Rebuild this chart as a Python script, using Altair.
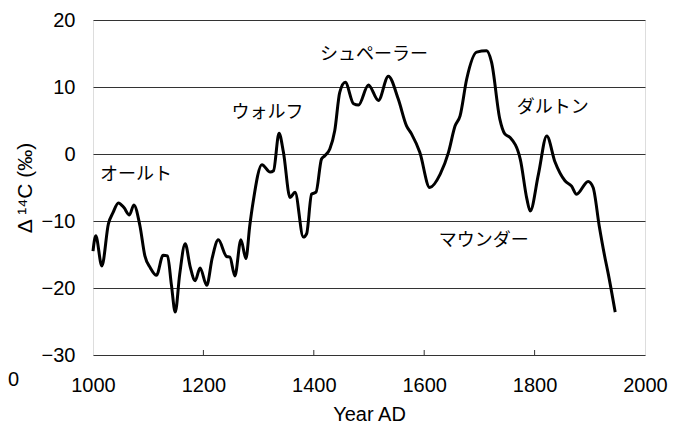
import altair as alt
import pandas as pd

years = [1000, 1005, 1016, 1028, 1036, 1046, 1056, 1066, 1074, 1085, 1094, 1104, 1115,
         1127, 1135, 1142, 1149, 1157, 1167, 1176, 1185, 1194, 1206, 1216, 1227, 1242,
         1248, 1257, 1268, 1277, 1284, 1290, 1306, 1321, 1327, 1337, 1345, 1357, 1366,
         1381, 1387, 1396, 1404, 1414, 1420, 1429, 1438, 1447, 1457, 1472, 1481, 1499,
         1517, 1535, 1553, 1568, 1577, 1592, 1610, 1629, 1644, 1656, 1665, 1677, 1695,
         1713, 1722, 1737, 1746, 1755, 1774, 1786, 1792, 1807, 1822, 1837, 1855, 1867,
         1876, 1897, 1906, 1917, 1928, 1933, 1946]
delta14c = [-14.5, -12.2, -16.7, -10.4, -8.8, -7.3, -8.0, -9.1, -7.6, -10.7, -15.2, -17.0, -18.1,
            -15.1, -15.2, -19.5, -23.6, -18.0, -13.4, -16.8, -18.9, -17.0, -19.6, -15.5, -12.8, -15.3,
            -15.4, -18.2, -12.8, -15.6, -10.7, -7.2, -1.6, -2.7, -2.5, 3.1, 0.25, -6.5, -5.7,
            -12.4, -11.9, -6.0, -5.7, -0.75, -0.25, 0.75, 3.5, 9.2, 10.7, 7.5, 7.3, 10.3,
            8.0, 11.6, 8.2, 4.2, 3.0, 0.25, -5.0, -3.0, 0.25, 4.2, 5.7, 11.2, 15.2,
            15.4, 13.7, 5.2, 3.0, 2.5, -0.75, -6.7, -8.5, -3.0, 2.7, -1.2, -4.0, -4.8,
            -6.0, -4.1, -5.0, -10.7, -15.7, -17.7, -23.6]

label_text = ["オールト", "ウォルフ", "シュペーラー", "マウンダー", "ダルトン"]
label_year = [1078, 1316, 1509, 1708, 1833]
label_val = [-3.1, 6.1, 14.8, -13.0, 6.9]

tick_years = [1200, 1400, 1600, 1800]

W, H = 552, 335
FONT = "Liberation Sans"
JP = "Noto Sans CJK JP"

df = pd.DataFrame({"year": years, "d14c": delta14c})
lab = pd.DataFrame({"text": label_text, "year": label_year, "val": label_val})
ticks = pd.DataFrame({"year": tick_years})

xscale = alt.Scale(domain=[1000, 2000], nice=False, zero=False)
yscale = alt.Scale(domain=[-30, 20], nice=False, zero=False)

base_x = alt.X("year:Q", scale=xscale,
               axis=alt.Axis(values=[1000, 1200, 1400, 1600, 1800, 2000], grid=False,
                             ticks=False, domain=False, labelPadding=20, labelFlush=False,
                             title="Year AD", titlePadding=9, labelFontSize=20,
                             titleFontSize=20, labelFont=FONT, titleFont=FONT,
                             labelColor="black", titleColor="black",
                             titleFontWeight="normal", format="d"))
base_y = alt.Y("d14c:Q", scale=yscale,
               axis=alt.Axis(values=[-30, -20, -10, 0, 10, 20], grid=True, gridColor="#333333",
                             gridWidth=1, ticks=False, domain=False, labelPadding=18,
                             labelFlush=False, title="Δ ¹⁴C (‰)", titlePadding=6,
                             labelFontSize=20, titleFontSize=21, labelFont=FONT,
                             titleFont=FONT, labelColor="black", titleColor="black",
                             titleFontWeight="normal"))

line = alt.Chart(df).mark_line(color="black", strokeWidth=3, interpolate="monotone").encode(
    x=base_x, y=base_y)

tk = alt.Chart(ticks).mark_rule(color="#333333", strokeWidth=1).encode(
    x="year:Q", y=alt.value(H), y2=alt.value(H - 5))

texts = alt.Chart(lab).mark_text(font=JP, fontSize=18, color="black").encode(
    x="year:Q", y="val:Q", text="text:N")

stray = alt.Chart(pd.DataFrame({"t": ["0"]})).mark_text(
    font=FONT, fontSize=20, color="black", align="right", baseline="middle").encode(
    x=alt.value(-74), y=alt.value(H + 25), text="t:N")

chart = alt.layer(line, tk, texts, stray).properties(
    width=W, height=H,
    autosize=alt.AutoSizeParams(type="none"),
    padding={"left": 85, "top": 12, "right": 29, "bottom": 70},
).configure_view(stroke="black", strokeWidth=1).configure(background="white")

chart.save("out.html", embed_options={"renderer": "svg", "actions": False})
